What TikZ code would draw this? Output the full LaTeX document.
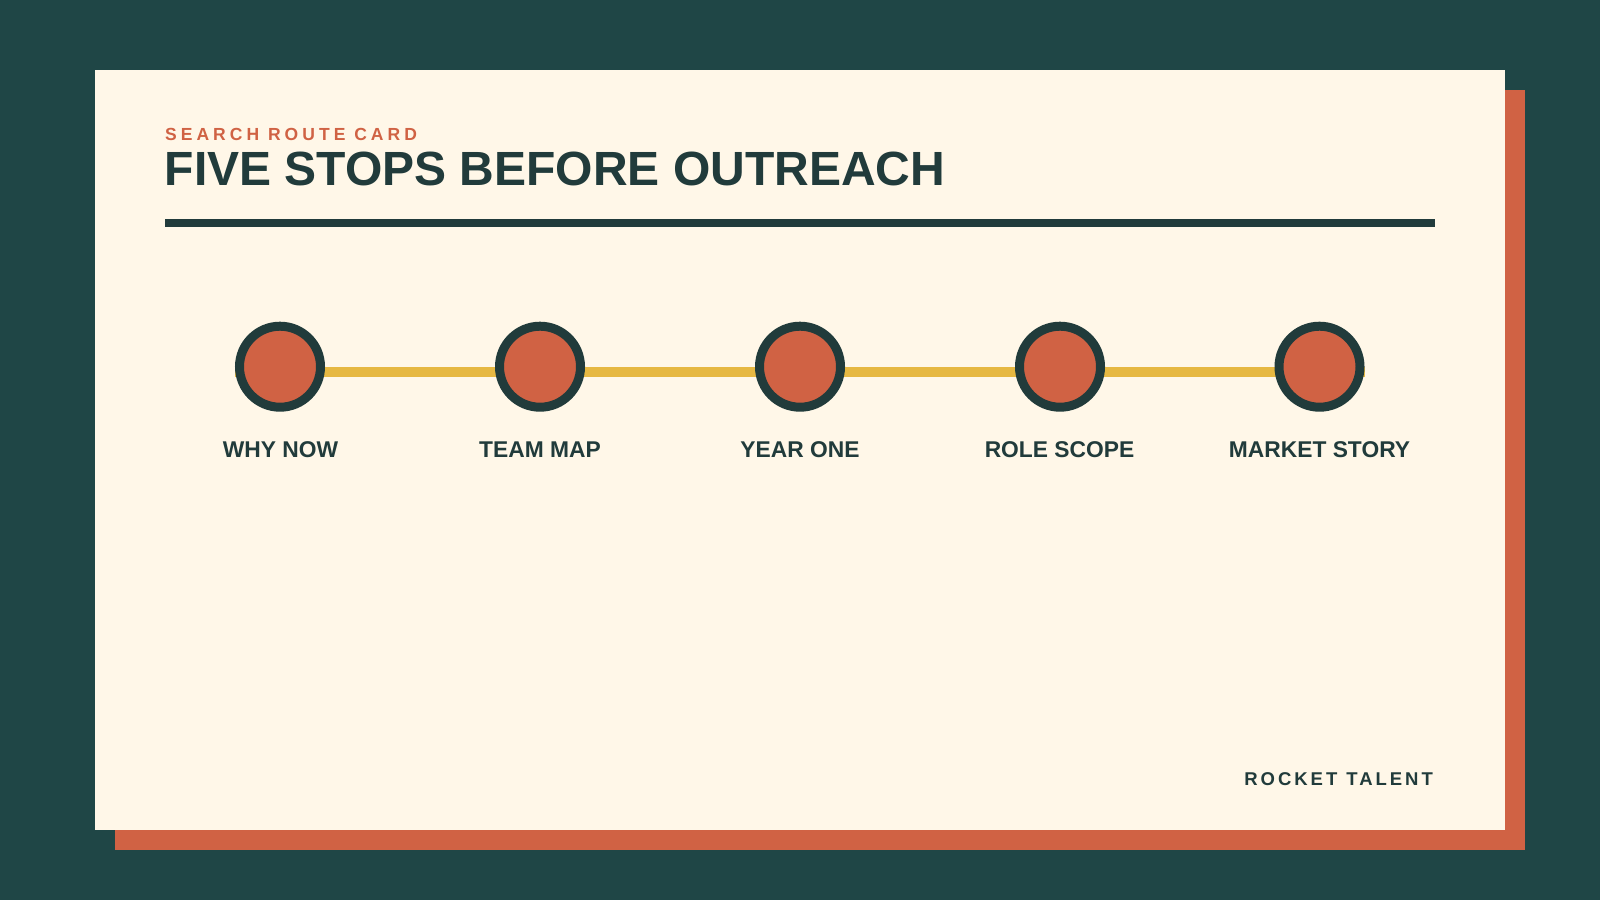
\documentclass[tikz,border=0pt]{standalone}
\usepackage{fontspec}
\setmainfont{Liberation Sans}
\newfontfamily\spacedA[LetterSpace=23]{Liberation Sans}
\newfontfamily\spacedB[LetterSpace=16]{Liberation Sans}
\definecolor{bgteal}{HTML}{1F4646}
\definecolor{cream}{HTML}{FFF7E8}
\definecolor{rust}{HTML}{D06244}
\definecolor{mustard}{HTML}{E6B842}
\definecolor{ink}{HTML}{213B3B}
\tikzset{
  stopdot/.style={circle, draw=ink, fill=rust, line width=9pt, minimum size=81pt, inner sep=0pt},
  stoplabel/.style={anchor=base, inner sep=0pt, text=ink, font=\fontsize{22.8}{22.8}\selectfont\bfseries},
  route/.style={draw=mustard, line width=10pt}
}
\begin{document}
\begin{tikzpicture}[x=1pt,y=-1pt]
\useasboundingbox (0,0) rectangle (1600,900);
\fill[bgteal] (0,0) rectangle (1600,900);
\fill[rust] (115,90) rectangle (1525,850);
\fill[cream] (95,70) rectangle (1505,830);
\node[anchor=base west, inner sep=0pt, text=rust, font=\fontsize{17.5}{17.5}\selectfont\bfseries\spacedA] (kicker) at (165,140.7) {SEARCH ROUTE CARD};
\node[anchor=base west, inner sep=0pt, text=ink, font=\fontsize{48}{48}\selectfont\bfseries] (title) at (164.5,185) {FIVE STOPS BEFORE OUTREACH};
\fill[ink] (165,219) rectangle (1435,227);
\coordinate (s1) at (280,366.7);
\coordinate (s5) at (1320,366.7);
\draw[route] ([shift={(-45,5.3)}]s1) -- ([shift={(45,5.3)}]s5);
\node[stopdot] (d1) at (280,366.7) {};
\node[stopdot] (d2) at (540,366.7) {};
\node[stopdot] (d3) at (800,366.7) {};
\node[stopdot] (d4) at (1060,366.7) {};
\node[stopdot] (d5) at (1319.5,366.7) {};
\node[stoplabel] (l1) at (280.5,457.7) {WHY NOW};
\node[stoplabel] (l2) at (540,457.7) {TEAM MAP};
\node[stoplabel] (l3) at (800,457.7) {YEAR ONE};
\node[stoplabel] (l4) at (1059.5,457.7) {ROLE SCOPE};
\node[stoplabel] (l5) at (1319.5,457.7) {MARKET STORY};
\node[anchor=base east, inner sep=0pt, text=ink, font=\fontsize{18.5}{18.5}\selectfont\bfseries\spacedB] (brand) at (1433,785.7) {ROCKET\hspace{1pt} TALENT};
\end{tikzpicture}
\end{document}
